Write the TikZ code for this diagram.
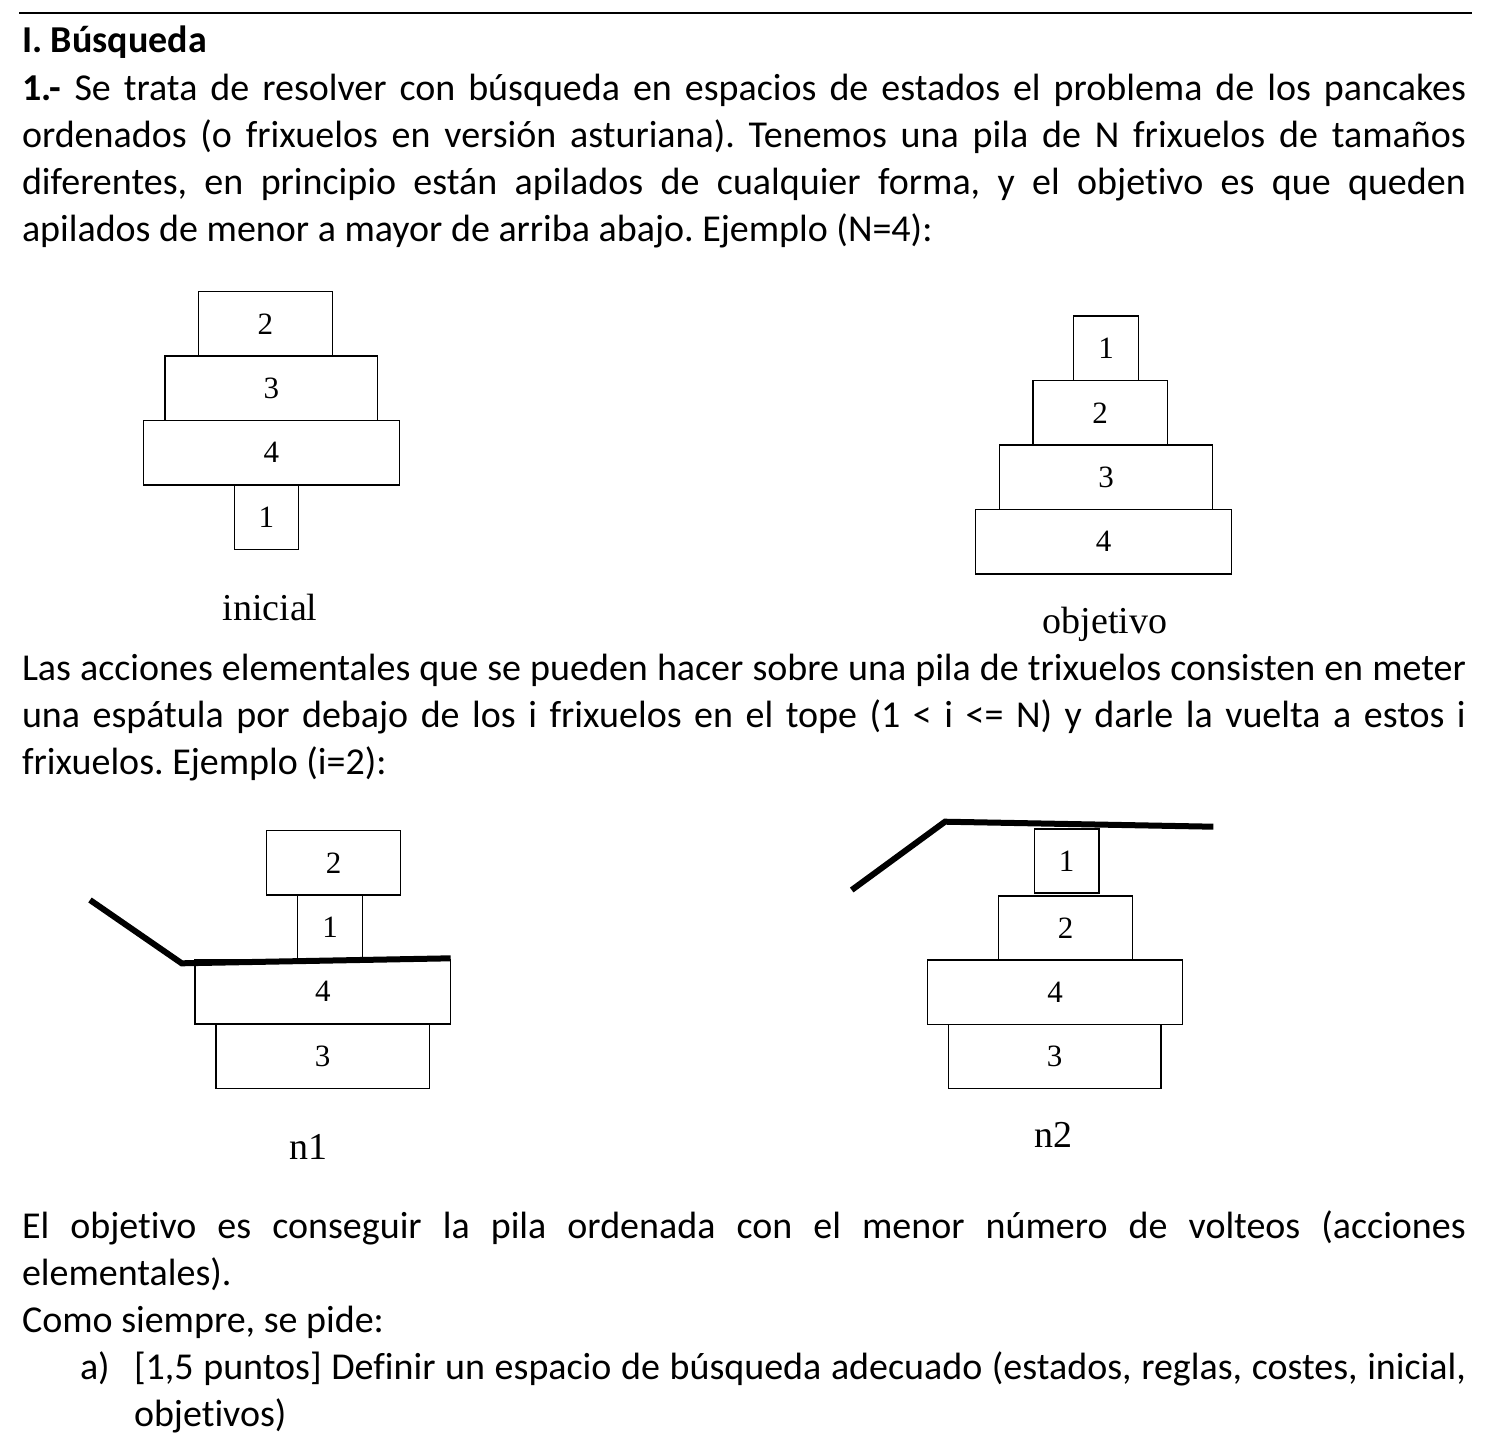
\documentclass[tikz,border=0pt]{standalone}
\usepackage{fontspec}
\setmainfont{Carlito}[Ligatures=CommonOff]
\newfontfamily\tnr{Liberation Serif}
\frenchspacing
\begin{document}
\begin{tikzpicture}[x=1pt,y=-1pt,
  txt/.style={anchor=base west, inner sep=0pt, outer sep=0pt, font=\fontsize{38}{47}\selectfont},
  pan/.style={draw, line width=1.2pt, inner sep=0pt, font=\tnr\fontsize{31}{36}\selectfont},
  lbl/.style={anchor=base, inner sep=0pt, font=\tnr\fontsize{38}{44}\selectfont},
  spat/.style={line width=6pt}]
\useasboundingbox (0,0) rectangle (1494,1448);
\fill[white] (0,0) rectangle (1494,1448);
% top rule
\coordinate (r1) at (19,13);
\coordinate (r2) at (1472,13);
\draw[line width=2.2pt] (r1) -- (r2);
% title and first paragraph
\node[txt] (t0) at (22,52) {\textbf{I. Búsqueda}};
\node[txt] (p1a) at (22,100) {\makebox[1444pt][s]{\textbf{1.-} Se trata de resolver con búsqueda en espacios de estados el problema de los pancakes}};
\node[txt] (p1b) at (22,147) {\makebox[1444pt][s]{ordenados (o frixuelos en versión asturiana). Tenemos una pila de N frixuelos de tamaños}};
\node[txt] (p1c) at (22,194) {\makebox[1444pt][s]{diferentes, en principio están apilados de cualquier forma, y el objetivo es que queden}};
\node[txt] (p1d) at (22,241) {apilados de menor a mayor de arriba abajo. Ejemplo (N=4):};
% inicial
\node[pan, minimum width=134pt, minimum height=64.5pt] (i2) at (265.3,323.75) {2};
\node[pan, minimum width=212.7pt, minimum height=64.5pt] (i3) at (271.3,388.25) {3};
\node[pan, minimum width=256pt, minimum height=64.5pt] (i4) at (271.3,452.75) {4};
\node[pan, minimum width=64pt, minimum height=64.5pt] (i1) at (266.3,517.25) {1};
\node[lbl] (li) at (270,620) {inicial};
% objetivo
\node[pan, minimum width=65pt, minimum height=64.5pt] (o1) at (1106.2,348.25) {1};
\node[pan, minimum width=134.3pt, minimum height=64.5pt] (o2) at (1100.2,412.75) {2};
\node[pan, minimum width=213.4pt, minimum height=64.5pt] (o3) at (1106,477.25) {3};
\node[pan, minimum width=256pt, minimum height=64.5pt] (o4) at (1103.7,541.75) {4};
\node[lbl] (lo) at (1105,633) {objetivo};
% second paragraph
\node[txt] (p2a) at (22,680) {\makebox[1444pt][s]{Las acciones elementales que se pueden hacer sobre una pila de trixuelos consisten en meter}};
\node[txt] (p2b) at (22,727) {\makebox[1444pt][s]{una espátula por debajo de los i frixuelos en el tope (1 < i <= N) y darle la vuelta a estos i}};
\node[txt] (p2c) at (22,774) {frixuelos. Ejemplo (i=2):};
% n1
\node[pan, minimum width=134pt, minimum height=64.5pt] (a2) at (333.7,862.75) {2};
\node[pan, minimum width=64.6pt, minimum height=64.5pt] (a1) at (330,927.25) {1};
\node[pan, minimum width=255.7pt, minimum height=64.5pt] (a4) at (322.8,991.75) {4};
\node[pan, minimum width=213.3pt, minimum height=64.5pt] (a3) at (322.7,1056.25) {3};
\coordinate (s1a) at (90,900);
\coordinate (s1b) at (181.7,963.3);
\coordinate (s1c) at (450.7,958.3);
\draw[spat] (s1a) -- (s1b) -- (s1c);
\node[lbl] (ln1) at (308,1159) {n1};
% n2
\node[pan, minimum width=64.7pt, minimum height=64pt] (b1) at (1066.7,861) {1};
\node[pan, minimum width=134pt, minimum height=64pt] (b2) at (1065.7,928) {2};
\node[pan, minimum width=255.4pt, minimum height=64.5pt] (b4) at (1055,992.25) {4};
\node[pan, minimum width=212.7pt, minimum height=64.2pt] (b3) at (1054.7,1056.6) {3};
\coordinate (s2a) at (851.7,890);
\coordinate (s2b) at (945,821.7);
\coordinate (s2c) at (1213.3,826.7);
\draw[spat] (s2a) -- (s2b) -- (s2c);
\node[lbl] (ln2) at (1053,1147) {n2};
% third paragraph
\node[txt] (p3a) at (22,1238) {\makebox[1444pt][s]{El objetivo es conseguir la pila ordenada con el menor número de volteos (acciones}};
\node[txt] (p3b) at (22,1285) {elementales).};
\node[txt] (p3c) at (22,1332) {Como siempre, se pide:};
\node[txt] (p3d) at (80,1379) {a)};
\node[txt] (p3e) at (134,1379) {\makebox[1332pt][s]{[1,5 puntos] Definir un espacio de búsqueda adecuado (estados, reglas, costes, inicial,}};
\node[txt] (p3f) at (134,1426) {objetivos)};
\end{tikzpicture}
\end{document}
